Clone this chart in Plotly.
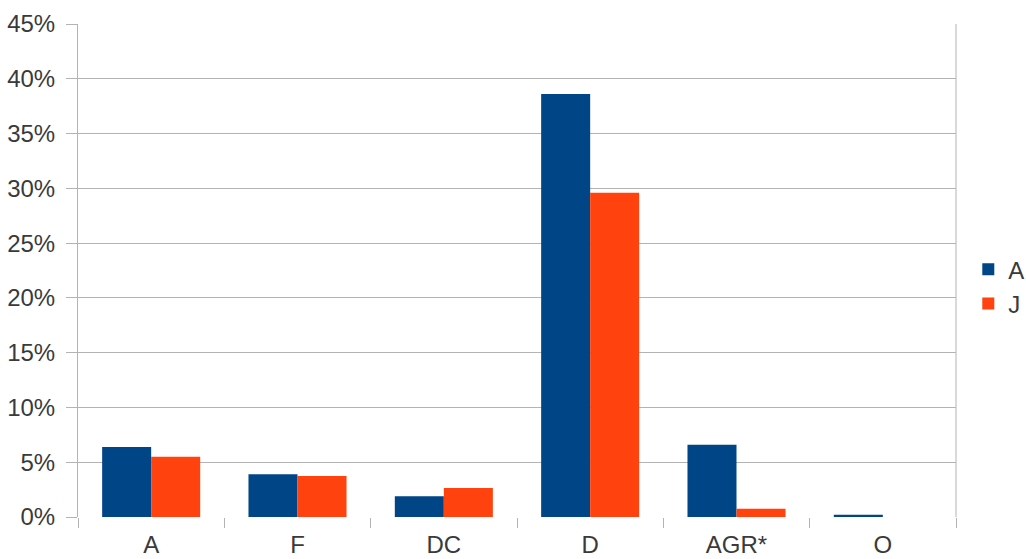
import plotly.graph_objects as go

categories = ["A", "F", "DC", "D", "AGR*", "O"]
series_a = [6.4, 3.9, 1.9, 38.6, 6.6, 0.2]
series_j = [5.5, 3.75, 2.65, 29.6, 0.75, 0.0]
y_ticks = [0, 5, 10, 15, 20, 25, 30, 35, 40, 45]
y_tick_labels = [f"{v}%" for v in y_ticks]

font_family = "Liberation Sans, Arial, sans-serif"
text_color = "#3a3a3a"
grid_color = "#b3b3b3"

fig = go.Figure()
fig.add_trace(go.Bar(name="A", x=categories, y=series_a, marker_color="#004586",
                     marker_line_width=0))
fig.add_trace(go.Bar(name="J", x=categories, y=series_j, marker_color="#ff420e",
                     marker_line_width=0))

fig.update_layout(
    width=1026, height=559,
    margin=dict(l=78, r=70, t=24, b=42, autoexpand=False),
    paper_bgcolor="white", plot_bgcolor="white",
    barmode="group", bargap=0.33, bargroupgap=0,
    font=dict(family=font_family, size=24, color=text_color),
    showlegend=True,
    legend=dict(x=1.014, y=0.467, xanchor="left", yanchor="middle",
                font=dict(size=24, color=text_color),
                itemwidth=30, tracegroupgap=0, bgcolor="rgba(0,0,0,0)"),
    xaxis=dict(
        tickson="boundaries", ticks="outside", ticklen=10, tickcolor=grid_color,
        showline=False, showgrid=False, zeroline=False,
        tickfont=dict(size=24, color=text_color),
        ticklabelstandoff=11,
    ),
    yaxis=dict(
        range=[0, 45], tickvals=y_ticks, ticktext=y_tick_labels,
        ticks="outside", ticklen=11, tickcolor=grid_color,
        showgrid=True, gridcolor=grid_color, gridwidth=1,
        showline=True, linecolor=grid_color, linewidth=1,
        zeroline=False, tickfont=dict(size=24, color=text_color),
        ticklabelstandoff=6,
    ),
)

# right-hand frame edge of the plot area
fig.add_shape(type="line", xref="paper", yref="paper", x0=1, x1=1, y0=0, y1=1,
              line=dict(color=grid_color, width=1), layer="below")

fig.write_html("out.html")
